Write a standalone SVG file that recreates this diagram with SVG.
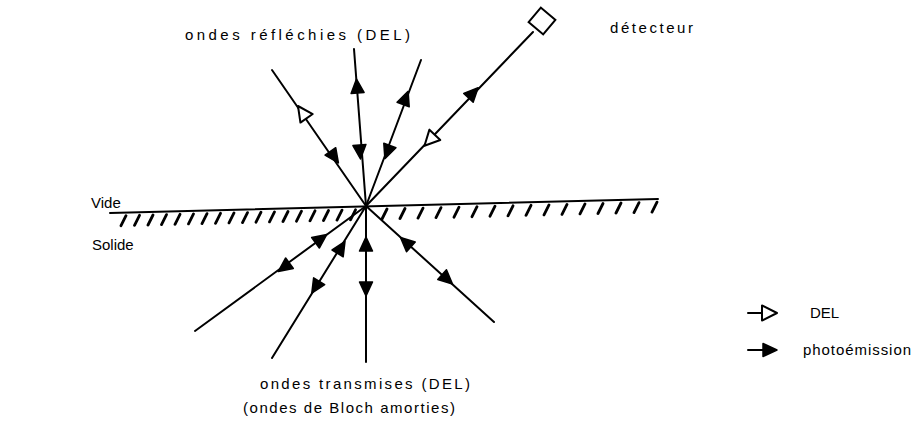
<svg xmlns="http://www.w3.org/2000/svg" xmlns:xlink="http://www.w3.org/1999/xlink" width="914" height="426" viewBox="0 0 914 426">
<style>
  .ln{stroke:#000;stroke-width:2;fill:none;stroke-linecap:round}
  .hatch{stroke:#000;stroke-width:2.8;fill:none;stroke-linecap:round}
  .fa{fill:#000;stroke:#000;stroke-width:1.5;stroke-linejoin:round}
  .oa{fill:#fff;stroke:#000;stroke-width:2;stroke-linejoin:round}
  text{font-family:"Liberation Sans","DejaVu Sans",sans-serif;font-size:15px;fill:#000}
</style>
<defs>
  <path id="fah" d="M0 0 L-14 -6.5 L-14 6.5 Z"/>
  <path id="oah" d="M0 0 L-15 -7.5 L-15 7.5 Z"/>
</defs>
<rect width="914" height="426" fill="#fff"/>

<g id="surface">
  <path class="ln" d="M110 213 L658 199"/>
  <path class="hatch" d="M126 215.7l-5 10M139.5 215.3l-5 10M153 215l-5 10M166.5 214.6l-5 10M180 214.3l-5 10M193.5 213.9l-5 10M207 213.6l-5 10M220.5 213.3l-5 10M234 212.9l-5 10M247.5 212.6l-5 10M261 212.2l-5 10M274.5 211.9l-5 10M288 211.5l-5 10M301.5 211.2l-5 10M315 210.8l-5 10M328.5 210.5l-5 10M342 210.1l-5 10M355.5 209.8l-5 10M387 209l-5 10M405 208.5l-5 10M423 208.1l-5 10M441 207.6l-5 10M459 207.2l-5 10M477 206.7l-5 10M495 206.2l-5 10M513 205.8l-5 10M531 205.3l-5 10M549 204.9l-5 10M567 204.4l-5 10M585 203.9l-5 10M603 203.5l-5 10M621 203l-5 10M639 202.6l-5 10M657 202.1l-5 10"/>
</g>

<g id="detector">
  <rect class="ln" x="-9.5" y="-9.5" width="19" height="19" transform="translate(542 21) rotate(40)"/>
</g>

<g id="connectors">
  <!-- reflected rays -->
  <path class="ln" d="M272 70 L366 206"/>
  <path class="ln" d="M354 49 L366 206"/>
  <path class="ln" d="M421 60 L366 206"/>
  <path class="ln" d="M533 32 L366 206"/>
  <!-- transmitted rays -->
  <path class="ln" d="M366 206 L195 331"/>
  <path class="ln" d="M366 206 L272 358"/>
  <path class="ln" d="M366 206 L366 362"/>
  <path class="ln" d="M366 206 L494 322"/>

  <!-- arrowheads on reflected rays -->
  <use href="#oah" class="oa" transform="translate(298 106) rotate(-124.9)"/>
  <use href="#fah" class="fa" transform="translate(338.4 162.9) rotate(55.1)"/>
  <use href="#fah" class="fa" transform="translate(356.5 79) rotate(-94.4)"/>
  <use href="#fah" class="fa" transform="translate(360.5 159) rotate(85.6)"/>
  <use href="#fah" class="fa" transform="translate(408.1 91.4) rotate(-69.2)"/>
  <use href="#fah" class="fa" transform="translate(384.9 158.6) rotate(110.8)"/>
  <use href="#fah" class="fa" transform="translate(478.1 87.7) rotate(-46.4)"/>
  <use href="#oah" class="oa" transform="translate(424.5 145.7) rotate(133.6)"/>

  <!-- arrowheads on transmitted rays -->
  <use href="#fah" class="fa" transform="translate(326.8 234.5) rotate(-36.2)"/>
  <use href="#fah" class="fa" transform="translate(278.2 271.5) rotate(143.8)"/>
  <use href="#fah" class="fa" transform="translate(345 241.5) rotate(-58.3)"/>
  <use href="#fah" class="fa" transform="translate(311.8 293.1) rotate(121.7)"/>
  <use href="#fah" class="fa" transform="translate(366 237) rotate(-90)"/>
  <use href="#fah" class="fa" transform="translate(366 296) rotate(90)"/>
  <use href="#fah" class="fa" transform="translate(400.5 237.5) rotate(-137.9)"/>
  <use href="#fah" class="fa" transform="translate(452.5 284) rotate(42.1)"/>
</g>

<g id="labels">
  <text x="185" y="40" textLength="225" lengthAdjust="spacing">ondes réfléchies (DEL)</text>
  <text x="610" y="33" textLength="83" lengthAdjust="spacing">détecteur</text>
  <text x="91" y="208">Vide</text>
  <text x="92" y="250">Solide</text>
  <text x="260" y="389" textLength="210" lengthAdjust="spacing">ondes transmises (DEL)</text>
  <text x="243" y="413" textLength="212" lengthAdjust="spacing">(ondes de Bloch amorties)</text>
</g>

<g id="legend">
  <path class="ln" d="M748 313 L764 313"/>
  <use href="#oah" class="oa" transform="translate(777 313)"/>
  <text x="810" y="318">DEL</text>
  <path class="ln" d="M748 350 L764 350"/>
  <use href="#fah" class="fa" transform="translate(777 350)"/>
  <text x="803" y="355" textLength="108" lengthAdjust="spacing">photoémission</text>
</g>
</svg>
